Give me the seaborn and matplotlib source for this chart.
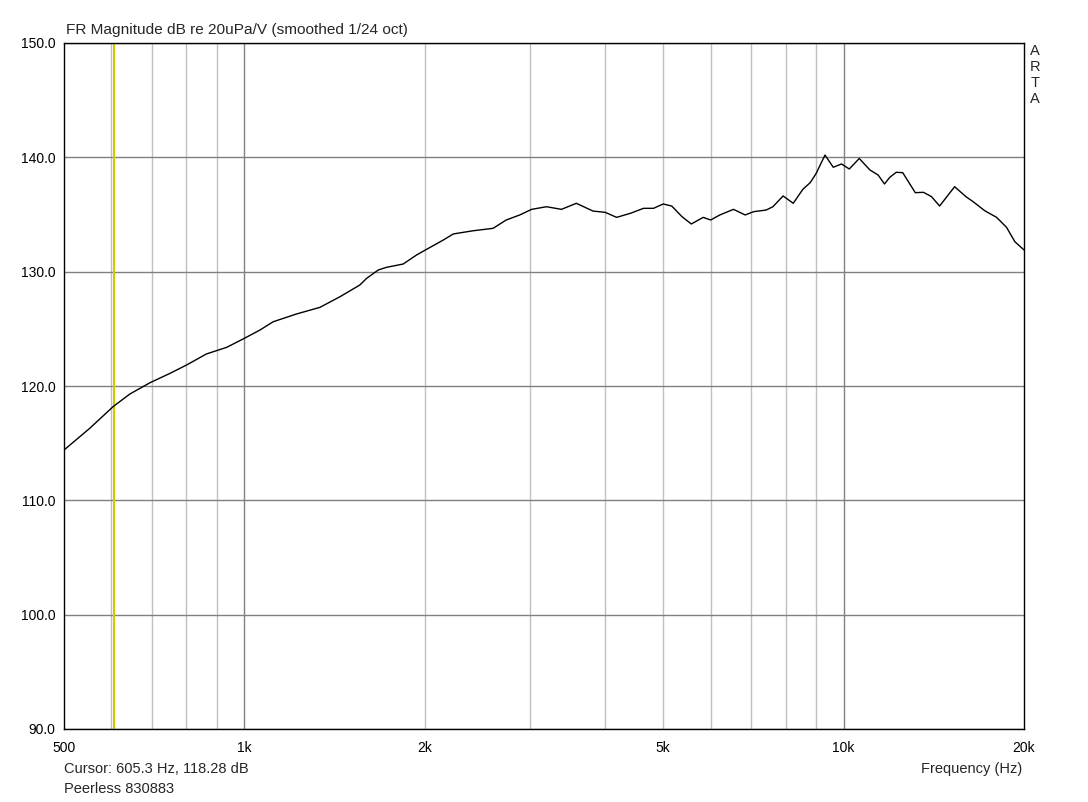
import matplotlib
matplotlib.use("Agg")
import matplotlib.pyplot as plt
import seaborn as sns
import pandas as pd

sns.set_style("white")
plt.rcParams['font.family'] = ['Liberation Sans', 'DejaVu Sans']

# response (Hz, dB)
freq = [500, 552, 604, 644, 696, 751, 801, 864, 934, 1000, 1062, 1117, 1222, 1337,
        1444, 1558, 1600, 1673, 1727, 1841, 1938, 2015, 2148, 2232, 2410, 2600,
        2735, 2881, 3015, 3193, 3382, 3580, 3818, 4000, 4180, 4405, 4636, 4816,
        5000, 5166, 5374, 5570, 5830, 6000, 6215, 6550, 6850, 7080, 7425, 7620,
        7925, 8240, 8550, 8800, 9000, 9310, 9610, 9920, 10220, 10620, 11060,
        11420, 11700, 11940, 12240, 12550, 13170, 13590, 14020, 14460, 14870,
        15320, 16000, 16450, 17200, 18000, 18700, 19310, 20000]
level = [114.4, 116.3, 118.2, 119.3, 120.29, 121.1, 121.84, 122.8, 123.38, 124.17,
         124.9, 125.62, 126.3, 126.88, 127.81, 128.83, 129.42, 130.15, 130.38,
         130.67, 131.46, 131.96, 132.77, 133.3, 133.58, 133.79, 134.52, 134.96,
         135.45, 135.68, 135.45, 135.98, 135.3, 135.19, 134.75, 135.1, 135.54,
         135.54, 135.92, 135.74, 134.81, 134.17, 134.75, 134.52, 134.96, 135.45,
         134.96, 135.25, 135.39, 135.68, 136.62, 135.98, 137.2, 137.8, 138.6,
         140.2, 139.13, 139.42, 138.98, 139.9, 138.9, 138.45, 137.67, 138.25,
         138.69, 138.66, 136.91, 136.94, 136.56, 135.74, 136.56, 137.43, 136.56,
         136.12, 135.33, 134.75, 133.88, 132.62, 131.9]

tick_freqs = [500, 1000, 2000, 5000, 10000, 20000]
tick_labels = ["500", "1k", "2k", "5k", "10k", "20k"]
light_grid = [600, 700, 800, 900, 2000, 3000, 4000, 5000, 6000, 7000, 8000, 9000]
dark_grid = [1000, 10000]
y_ticks = [90, 100, 110, 120, 130, 140, 150]
cursor_freq = 605.3
cursor_db = 118.28

df = pd.DataFrame({"freq": freq, "level": level})

fig = plt.figure(figsize=(10.88, 8.02), dpi=100)
ax = fig.add_axes([64 / 1088, 73 / 802, 960 / 1088, 686 / 802])

# grid like ARTA: light minor lines, darker decade / level lines
for f in light_grid:
    ax.axvline(f, color="#c0c0c0", lw=1, zorder=1)
for f in dark_grid:
    ax.axvline(f, color="#808080", lw=1, zorder=1)
for v in y_ticks:
    ax.axhline(v, color="#808080", lw=1, zorder=1)

ax.axvline(cursor_freq, color="#cccc00", lw=1.5, zorder=2)

sns.lineplot(data=df, x="freq", y="level", ax=ax, color="black", lw=1, zorder=3)

ax.set_xscale("log")
ax.set_xlim(500, 20000)
ax.set_ylim(90, 150)
ax.set_xticks(tick_freqs)
ax.set_xticklabels(tick_labels)
ax.xaxis.set_minor_locator(matplotlib.ticker.NullLocator())
ax.set_yticks(y_ticks)
ax.set_yticklabels([f"{v:.1f}" for v in y_ticks])
ax.tick_params(axis="both", length=0, labelsize=10, colors="black")
ax.tick_params(axis="x", pad=9)
ax.tick_params(axis="y", pad=6)
ax.set_xlabel("")
ax.set_ylabel("")
for s in ax.spines.values():
    s.set_color("black")
    s.set_linewidth(1)

fig.text(66 / 1088, 1 - 30 / 802, "FR Magnitude dB re 20uPa/V (smoothed 1/24 oct)",
         fontsize=11.1, va="center", ha="left")
fig.text(64 / 1088, 1 - 769 / 802, f"Cursor: {cursor_freq} Hz, {cursor_db:.2f} dB",
         fontsize=10.5, va="center", ha="left")
fig.text(64 / 1088, 1 - 789 / 802, "Peerless 830883", fontsize=10.5, va="center", ha="left")
fig.text(1022 / 1088, 1 - 769 / 802, "Frequency (Hz)", fontsize=10.5, va="center", ha="right")
for i, ch in enumerate("ARTA"):
    fig.text(1035 / 1088, 1 - (51 + i * 16) / 802, ch, fontsize=10.5, va="center", ha="center")

fig.savefig("out.png", dpi=100, facecolor="white")
